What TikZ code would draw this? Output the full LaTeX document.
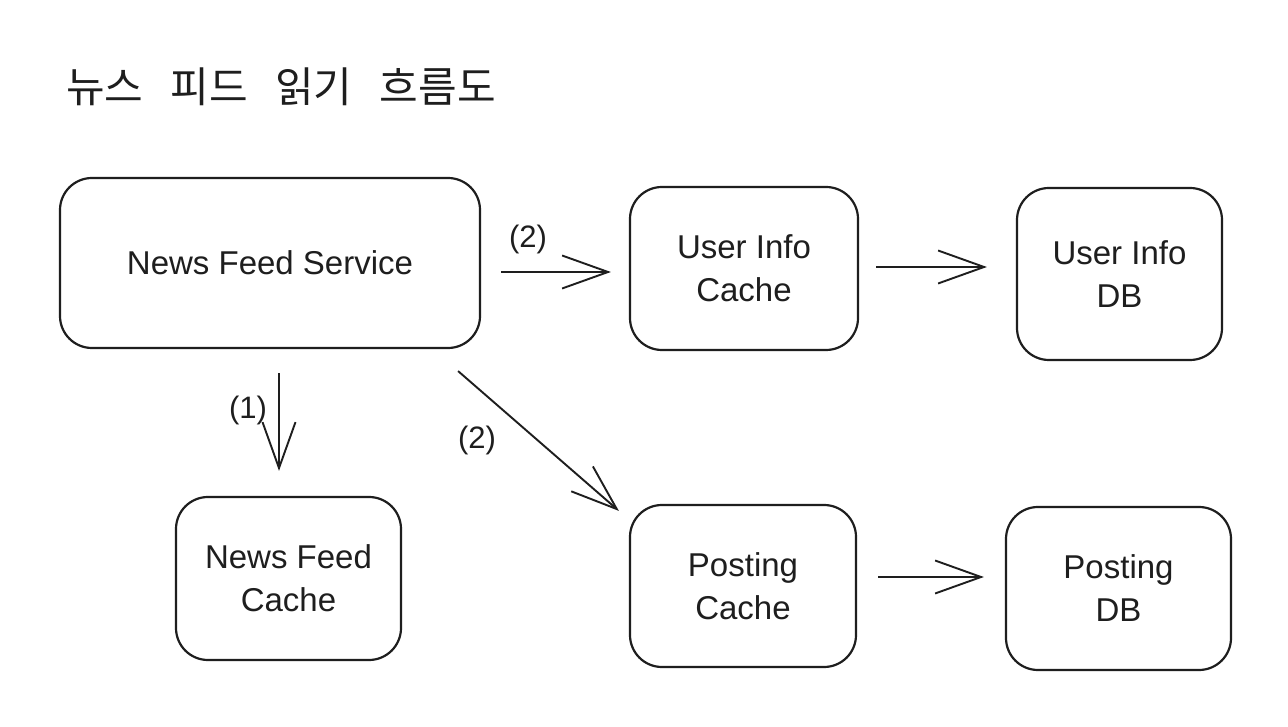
\documentclass[tikz,border=0pt]{standalone}
\usepackage{fontspec}
\setmainfont{Liberation Sans}
\newfontfamily\krfont{Noto Sans CJK KR}
\usetikzlibrary{arrows.meta}
\definecolor{ink}{HTML}{1E1E1E}

\begin{document}
\begin{tikzpicture}[x=1pt,y=1pt,
  box/.style={draw=ink,line width=2.2pt,rounded corners=32pt,align=center,
              text=ink,font=\fontsize{33}{43}\selectfont},
  flow/.style={draw=ink,line width=1.9pt,-{Straight Barb[length=46pt,width=33pt,line width=1.9pt]}},
  lbl/.style={text=ink,font=\fontsize{31}{34}\selectfont}]
\useasboundingbox[fill=white] (0,0) rectangle (1288,726);

%title
\node[anchor=base west,inner sep=0pt,text=ink] (title) at (66,623)
  {\krfont\fontsize{42}{48}\selectfont 뉴스\hspace{0.65em}피드\hspace{0.65em}읽기\hspace{0.65em}흐름도};

%boxes
\node[box,minimum width=420pt,minimum height=170pt] (nfs)  at (270,463)    {News Feed Service};
\node[box,minimum width=228pt,minimum height=163pt] (uic)  at (744,457.5)  {User Info\\Cache};
\node[box,minimum width=205pt,minimum height=172pt] (uidb) at (1119.5,452) {User Info\\DB};
\node[box,minimum width=225pt,minimum height=163pt] (nfc)  at (288.5,147.5){News Feed\\Cache};
\node[box,minimum width=226pt,minimum height=162pt] (pc)   at (743,140)    {Posting\\Cache};
\node[box,minimum width=225pt,minimum height=163pt] (pdb)  at (1118.5,137.5){Posting\\DB};

%arrows
\draw[flow] ([shift={(20,-9)}]nfs.east) -- ([shift={(-18,-3.5)}]uic.west);
\draw[flow] ([shift={(17,1.5)}]uic.east) -- ([shift={(-29,7)}]uidb.west);
\draw[flow] ([shift={(9,-24)}]nfs.south) -- ([shift={(-9.5,25)}]nfc.north);
\draw[flow] ([shift={(-23,-22)}]nfs.south east) -- ([shift={(-10,-7)}]pc.north west);
\draw[flow] ([shift={(21,9)}]pc.east) -- ([shift={(-21,11.5)}]pdb.west);

%labels
\node[lbl] (l2a) at (528,487) {(2)};
\node[lbl] (l1)  at (248,316) {(1)};
\node[lbl] (l2b) at (477,286) {(2)};

\end{tikzpicture}
\end{document}
